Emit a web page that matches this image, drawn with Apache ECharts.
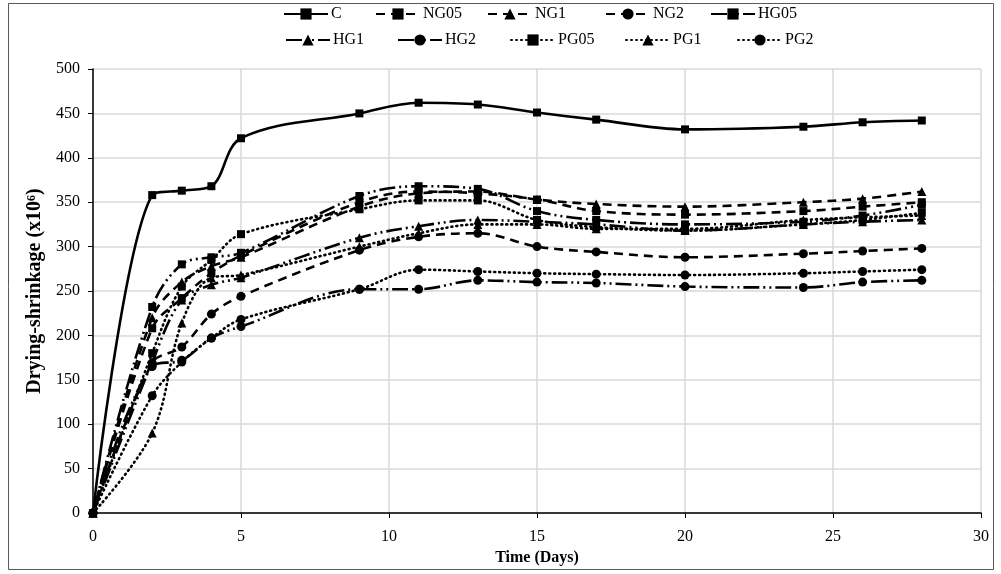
<!DOCTYPE html>
<html><head><meta charset="utf-8">
<script src="https://cdn.jsdelivr.net/npm/echarts@6/dist/echarts.min.js"></script>
<style>html,body{margin:0;padding:0;background:#fff}#c{width:1001px;height:574px}</style>
</head><body><div id="c"></div>
<script>
const days = [0, 2, 3, 4, 5, 9, 11, 13, 15, 17, 20, 24, 26, 28];
const C    = [0, 358, 363, 368, 422, 450, 462, 460, 451, 443, 432, 435, 440, 442];
const NG05 = [0, 208, 242, 270, 290, 350, 362, 360, 353, 340, 336, 340, 345, 350];
const NG1  = [0, 220, 260, 278, 288, 345, 360, 362, 353, 348, 345, 350, 354, 362];
const NG2  = [0, 169, 187, 224, 244, 296, 311, 315, 300, 294, 288, 292, 295, 298];
const HG05 = [0, 232, 280, 288, 293, 357, 368, 365, 340, 330, 325, 328, 335, 347];
const HG1  = [0, 170, 240, 257, 265, 310, 323, 330, 328, 325, 318, 325, 328, 330];
const HG2  = [0, 165, 172, 197, 210, 252, 252, 262, 260, 259, 255, 254, 260, 262];
const PG05 = [0, 180, 255, 285, 314, 342, 352, 352, 330, 322, 318, 325, 330, 338];
const PG1  = [0, 90, 214, 265, 268, 300, 315, 325, 325, 320, 320, 330, 333, 335];
const PG2  = [0, 132, 170, 197, 218, 252, 274, 272, 270, 269, 268, 270, 272, 274];
const xTicks = [0, 5, 10, 15, 20, 25, 30];
const yTicks = [0, 50, 100, 150, 200, 250, 300, 350, 400, 450, 500];
const names = ['C', 'NG05', 'NG1', 'NG2', 'HG05', 'HG1', 'HG2', 'PG05', 'PG1', 'PG2'];

const FONT = '"Liberation Serif", "Times New Roman", serif';
const DASH = [9, 6];
const LDD = [16, 4, 2, 4, 2, 4];
const DOT = [1, 4];

function mk(name, vals, type, symbol, size) {
  return {
    name: name, type: 'line', smooth: 0.35,
    data: days.map((d, i) => [d, vals[i]]),
    symbol: symbol, symbolSize: size,
    itemStyle: { color: '#000' },
    lineStyle: { color: '#000', width: 2.6, type: type, cap: type === DOT ? 'round' : 'butt' },
    z: 2
  };
}
const series = [
  mk('C', C, 'solid', 'rect', 8),
  mk('NG05', NG05, DASH, 'rect', 8),
  mk('NG1', NG1, DASH, 'triangle', 9),
  mk('NG2', NG2, DASH, 'circle', 9),
  mk('HG05', HG05, LDD, 'rect', 8),
  mk('HG1', HG1, LDD, 'triangle', 9),
  mk('HG2', HG2, LDD, 'circle', 9),
  mk('PG05', PG05, DOT, 'rect', 8),
  mk('PG1', PG1, DOT, 'triangle', 9),
  mk('PG2', PG2, DOT, 'circle', 9)
];
const legLeft = [283, 375, 487, 605, 710, 285, 397, 510, 625, 737];
const legends = names.map((n, i) => ({
  data: [n], left: legLeft[i], top: i < 5 ? 6 : 32, padding: 0,
  itemWidth: 44, itemHeight: 14,
  textStyle: { fontFamily: FONT, fontSize: 16, color: '#000', padding: [0, 0, 0, -2] },
  selectedMode: false
}));

const chart = echarts.init(document.getElementById('c'));
chart.setOption({
  animation: false,
  backgroundColor: '#fff',
  graphic: [{ type: 'rect', shape: { x: 8.5, y: 3.5, width: 985, height: 566 },
    style: { fill: 'none', stroke: '#595959', lineWidth: 1 }, silent: true }],
  legend: legends,
  grid: { left: 93, right: 20, top: 69, bottom: 61 },
  xAxis: {
    type: 'value', min: 0, max: 30, interval: 5,
    name: 'Time (Days)', nameLocation: 'middle', nameGap: 37,
    nameTextStyle: { fontFamily: FONT, fontSize: 16, fontWeight: 'bold', color: '#000' },
    axisLine: { onZero: false, lineStyle: { color: '#000', width: 1.5 } },
    axisTick: { show: true, length: 5, lineStyle: { color: '#000' } },
    axisLabel: { fontFamily: FONT, fontSize: 16, color: '#000', margin: 16,
      formatter: v => xTicks.includes(v) ? String(v) : '' },
    splitLine: { show: true, lineStyle: { color: '#d9d9d9', width: 1.5 } }
  },
  yAxis: {
    type: 'value', min: 0, max: 500, interval: 50,
    name: 'Drying-shrinkage (x10\u2076)', nameLocation: 'middle', nameGap: 44,
    nameTextStyle: { fontFamily: FONT, fontSize: 20, fontWeight: 'bold', color: '#000' },
    axisLine: { show: true, lineStyle: { color: '#000', width: 1.5 } },
    axisTick: { show: true, length: 5, lineStyle: { color: '#000' } },
    axisLabel: { fontFamily: FONT, fontSize: 16, color: '#000', margin: 13,
      formatter: v => yTicks.includes(v) ? String(v) : '' },
    splitLine: { show: true, lineStyle: { color: '#d9d9d9', width: 1.5 } }
  },
  series: series
});
</script></body></html>
